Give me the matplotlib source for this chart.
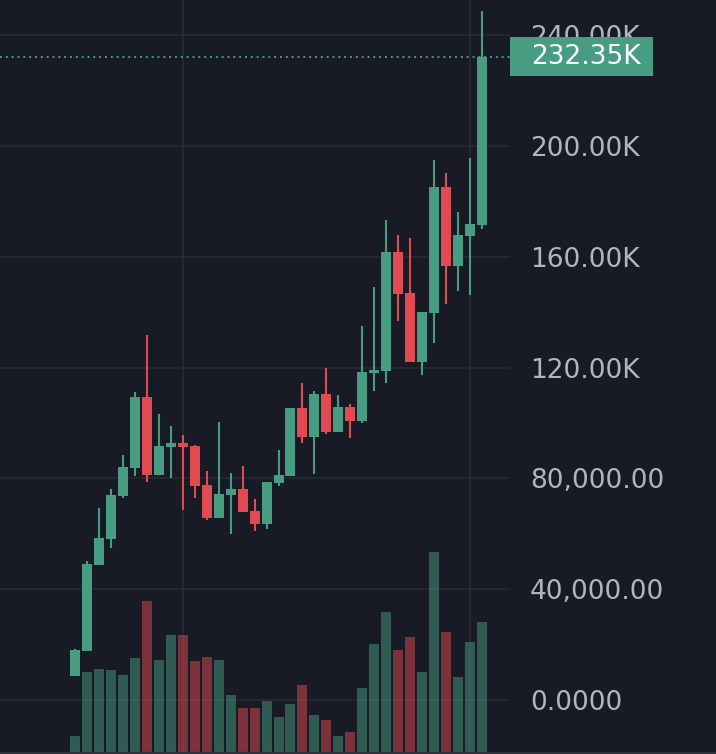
import matplotlib
matplotlib.use("Agg")
import matplotlib.pyplot as plt
from matplotlib.patches import Rectangle
from matplotlib.ticker import FuncFormatter
import numpy as np

# candle data, values in thousands
opens  = [8.6, 17.6, 48.7, 58.1, 73.6, 83.7, 109.4, 81.2, 91.3, 92.7, 91.7, 77.6,
          65.6, 74.0, 76.1, 68.2, 63.5, 78.3, 80.8, 105.4, 94.9, 110.4, 96.7, 105.7,
          100.7, 118.0, 118.7, 161.7, 146.9, 122.0, 139.7, 185.2, 156.7, 167.5, 171.5]
highs  = [18.3, 50.1, 69.3, 76.1, 88.4, 111.2, 131.8, 103.2, 98.9, 95.6, 92.0, 82.6,
          100.3, 81.9, 84.4, 72.5, 78.6, 90.2, 105.4, 114.4, 111.5, 119.8, 110.1, 106.8,
          135.0, 149.1, 173.3, 167.9, 166.8, 140.1, 195.0, 190.3, 176.2, 195.7, 248.8]
lows   = [8.5, 17.6, 48.7, 54.8, 72.9, 80.8, 78.6, 81.2, 80.1, 68.5, 72.9, 64.9,
          65.6, 59.9, 67.8, 60.9, 61.7, 77.2, 80.8, 92.7, 81.5, 96.0, 96.7, 94.5,
          100.0, 111.5, 114.4, 136.8, 122.0, 117.3, 128.9, 143.0, 147.7, 146.2, 170.0]
closes = [18.0, 49.0, 58.4, 74.0, 84.1, 109.4, 81.2, 91.7, 92.7, 91.3, 77.2, 65.6,
          74.3, 76.1, 67.8, 63.5, 78.6, 81.2, 105.4, 94.9, 110.4, 96.7, 105.7, 100.7,
          118.4, 119.1, 161.7, 146.6, 122.0, 140.1, 185.2, 156.7, 167.9, 171.9, 232.35]
volumes = [16, 80, 83, 82, 77, 94, 151, 92, 117, 117, 91, 95, 92, 57, 44, 44, 51, 35,
           48, 67, 37, 32, 16, 20, 64, 108, 140, 102, 115, 80, 200, 120, 75, 110, 130]
price_ticks = [0, 40000, 80000, 120000, 160000, 200000, 240000]
time_grid = [9, 33]

o = np.array(opens) * 1000
h = np.array(highs) * 1000
l = np.array(lows) * 1000
c = np.array(closes) * 1000
x = np.arange(len(o))

bg = '#181a25'
up = '#479c82'
down = '#e04a50'
grid_c = '#282b36'
text_c = '#b2b5be'

fig = plt.figure(figsize=(7.16, 7.54), dpi=100, facecolor=bg)
ax = fig.add_axes([0, 2/754, 510/716, 752/754])
ax.set_facecolor(bg)
ax2 = ax.twinx()  # volume, made first since twinx resets the tick side

colors = [up if cc >= oo else down for oo, cc in zip(o, c)]

ax.vlines(x, l, h, colors=colors, linewidth=1.5, zorder=3)
ax.bar(x, np.abs(c - o), bottom=np.minimum(o, c), width=0.835, color=colors, zorder=4)

ax.set_xlim(-6.27, 36.34)
ax.set_ylim(-18900, 252800)

ax.set_yticks(price_ticks)
ax.set_xticks(time_grid)
ax.grid(True, color=grid_c, linewidth=1.1, zorder=0)

def fmt(v, pos):
    if v == 0:
        return "0.0000"
    if v >= 100000:
        return f"{v/1000:.2f}K"
    return f"{v:,.2f}"

ax.yaxis.set_major_formatter(FuncFormatter(fmt))
ax.yaxis.tick_right()
ax.tick_params(axis='y', length=0, pad=14.4, labelsize=19, labelcolor=text_c,
               left=False, labelleft=False, right=False, labelright=True)
ax.tick_params(axis='x', length=0, labelbottom=False)
for s in ax.spines.values():
    s.set_visible(False)

# last price line and label
last = c[-1]
ax.axhline(last, color=up, linewidth=1.4, linestyle=(0, (1, 2)), zorder=2)
tr = ax.get_yaxis_transform()
ax.add_patch(Rectangle((1.0, last - 7050), 143/510, 14100, transform=tr,
                       facecolor=up, edgecolor='none', clip_on=False, zorder=10))
ax.text(1.041, last, f"{last/1000:.2f}K", transform=tr, color='white', fontsize=19,
        va='center', ha='left', zorder=11, clip_on=False)

ax2.bar(x, volumes, width=0.835, color=colors, alpha=0.5, zorder=1)
ax2.set_ylim(0, 751)
ax2.set_axis_off()

fig.add_artist(plt.Line2D([0, 1], [1.5/754, 1.5/754], color='#2e313c', linewidth=1.5,
                          transform=fig.transFigure))

fig.savefig('out.png', facecolor=bg)
